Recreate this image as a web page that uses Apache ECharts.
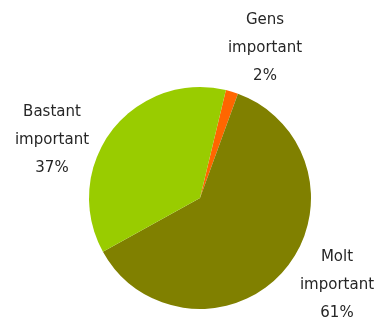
<!DOCTYPE html>
<html>
<head>
<meta charset="utf-8">
<style>
  html, body { margin: 0; padding: 0; background: #fff; }
  #chart { width: 378px; height: 318px; }
</style>
<script src="https://cdn.jsdelivr.net/npm/echarts@6/dist/echarts.min.js"></script>
</head>
<body>
<div id="chart"></div>
<script>
const categories = ['Gens\nimportant', 'Molt\nimportant', 'Bastant\nimportant'];
const values = [1.8, 61.4, 36.8];
const colors = ['#FF6600', '#808000', '#99CC00'];

// where each label block sits (centre of the three lines)
const labelSpots = [[265, 48], [337, 285], [52, 140]];

const chart = echarts.init(document.getElementById('chart'));

chart.setOption({
  animation: false,
  series: [{
    type: 'pie',
    center: [200, 198],
    radius: 111,
    startAngle: 76.5,
    clockwise: true,
    data: categories.map((name, i) => ({
      name: name,
      value: values[i],
      itemStyle: { color: colors[i] }
    })),
    label: {
      show: true,
      position: 'outside',
      formatter: '{b}\n{d}%',
      fontFamily: 'DejaVu Sans',
      fontSize: 15,
      lineHeight: 28,
      color: '#262626',
      align: 'center',
      overflow: 'none',
      width: 120
    },
    labelLine: { show: false },
    labelLayout: function (params) {
      const p = labelSpots[params.dataIndex];
      return { x: p[0], y: p[1], align: 'center', verticalAlign: 'middle' };
    },
    percentPrecision: 0,
    emphasis: { disabled: true }
  }]
});
</script>
</body>
</html>
